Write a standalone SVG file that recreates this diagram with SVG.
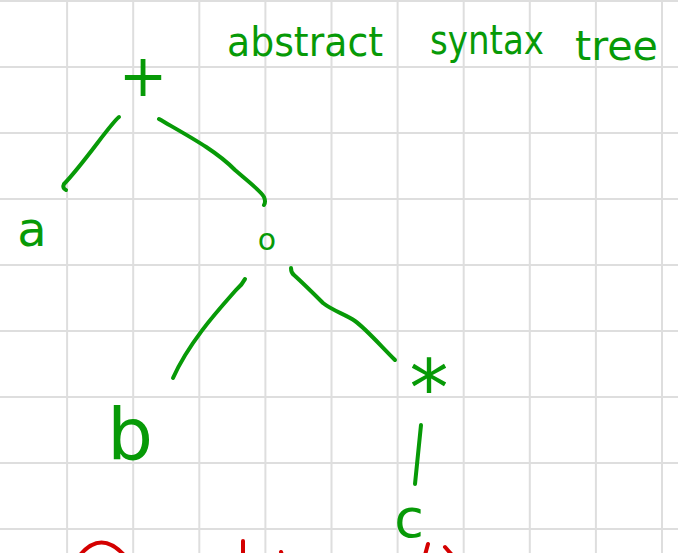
<svg xmlns="http://www.w3.org/2000/svg" width="678" height="553" viewBox="0 0 678 553">
  <style>
    .grid line { stroke: #dedede; stroke-width: 2; }
    .ink { fill: #079a07; font-family: "DejaVu Sans", sans-serif; }
    .edge { fill: none; stroke: #079a07; stroke-width: 4; stroke-linecap: round; stroke-linejoin: round; }
    .red { fill: none; stroke: #d40000; stroke-width: 4; stroke-linecap: round; }
  </style>
  <rect width="678" height="553" fill="#ffffff"/>

  <!-- squared paper -->
  <g class="grid">
    <line x1="67.1" y1="0" x2="67.1" y2="553"/>
    <line x1="133.2" y1="0" x2="133.2" y2="553"/>
    <line x1="199.3" y1="0" x2="199.3" y2="553"/>
    <line x1="265.4" y1="0" x2="265.4" y2="553"/>
    <line x1="331.5" y1="0" x2="331.5" y2="553"/>
    <line x1="397.6" y1="0" x2="397.6" y2="553"/>
    <line x1="463.7" y1="0" x2="463.7" y2="553"/>
    <line x1="529.8" y1="0" x2="529.8" y2="553"/>
    <line x1="595.9" y1="0" x2="595.9" y2="553"/>
    <line x1="662" y1="0" x2="662" y2="553"/>
    <line x1="0" y1="1" x2="678" y2="1"/>
    <line x1="0" y1="67" x2="678" y2="67"/>
    <line x1="0" y1="133" x2="678" y2="133"/>
    <line x1="0" y1="199" x2="678" y2="199"/>
    <line x1="0" y1="265" x2="678" y2="265"/>
    <line x1="0" y1="331" x2="678" y2="331"/>
    <line x1="0" y1="397" x2="678" y2="397"/>
    <line x1="0" y1="463" x2="678" y2="463"/>
    <line x1="0" y1="529" x2="678" y2="529"/>
  </g>

  <!-- heading -->
  <g id="title" class="ink" font-size="40">
    <text x="227" y="56" textLength="156" lengthAdjust="spacingAndGlyphs">abstract</text>
    <text x="430" y="54" textLength="114" lengthAdjust="spacingAndGlyphs">syntax</text>
    <text x="575" y="60" textLength="83" lengthAdjust="spacingAndGlyphs">tree</text>
  </g>

  <!-- tree edges -->
  <g id="connectors">
    <path class="edge" d="M119,117 C110,124 85,162 64,184 Q62,188 66,190"/>
    <path class="edge" d="M159,119 C190,137 215,150 235,170 C250,183 262,192 264,197 Q266,202 264,205"/>
    <path class="edge" d="M245,279 Q242,285 236,290 C222,306 190,340 173,378"/>
    <path class="edge" d="M291,268 Q291,273 294,275 C305,285 315,295 323,303 C333,311 345,314 355,321 C365,328 380,345 395,360"/>
    <path class="edge" d="M421,425 Q418,455 415,484"/>
  </g>

  <!-- tree nodes -->
  <g id="node-plus" class="ink"><text x="143" y="96" font-size="58" text-anchor="middle">+</text></g>
  <g id="node-a" class="ink"><text x="32" y="246" font-size="48" text-anchor="middle">a</text></g>
  <g id="node-o" class="ink"><text x="267" y="250" font-size="30" text-anchor="middle">o</text></g>
  <g id="node-b" class="ink"><text x="130" y="459" font-size="72" text-anchor="middle">b</text></g>
  <g id="node-star" class="ink"><text x="429" y="415" font-size="78" text-anchor="middle">*</text></g>
  <g id="node-c" class="ink"><text x="409" y="537" font-size="54" text-anchor="middle">c</text></g>

  <!-- red ink entering at the bottom edge -->
  <g id="red-marks">
    <path class="red" d="M80,555 Q101,530 124,555"/>
    <path class="red" d="M243,541 L243,555"/>
    <path class="red" d="M281,552 L282,555"/>
    <path class="red" d="M428,544 L425,555"/>
    <path class="red" d="M445,547 L452,555"/>
  </g>
</svg>
